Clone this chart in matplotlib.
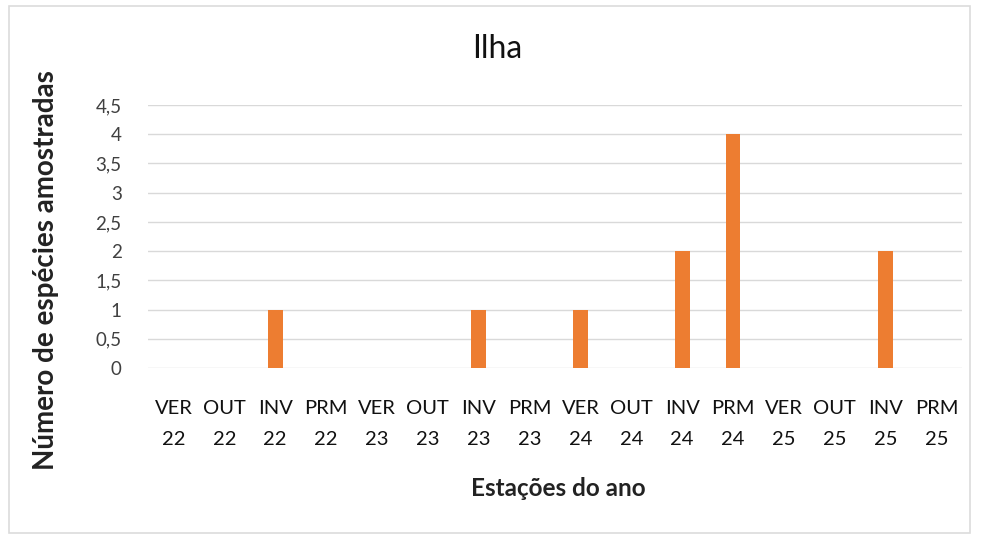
import matplotlib
matplotlib.use("Agg")
import matplotlib.pyplot as plt
from matplotlib.patches import Rectangle

plt.rcParams['font.family'] = ['Lato', 'DejaVu Sans']

seasons = ["VER", "OUT", "INV", "PRM"] * 4
years = ["22"] * 4 + ["23"] * 4 + ["24"] * 4 + ["25"] * 4
categories = [f"{s}\n{y}" for s, y in zip(seasons, years)]
values = [0, 0, 1, 0, 0, 0, 1, 0, 1, 0, 2, 4, 0, 0, 2, 0]
yticks = [0, 0.5, 1, 1.5, 2, 2.5, 3, 3.5, 4, 4.5]
ytick_labels = ["0", "0,5", "1", "1,5", "2", "2,5", "3", "3,5", "4", "4,5"]

W, H = 982, 534
fig = plt.figure(figsize=(W / 100, H / 100), dpi=100)
fig.patch.set_facecolor("white")
fig.patches.append(Rectangle((9 / W, 0.002), (970 - 9) / W, 1 - 6 / H - 0.002,
                             transform=fig.transFigure, fill=False,
                             edgecolor="#dcdcdc", linewidth=1.2))
ax = fig.add_axes([148 / W, 1 - 368 / H, (962 - 148) / W, (368 - 105) / H])
x = list(range(len(categories)))
ax.bar(x, values, width=0.29, color="#ED7D31", zorder=3)
ax.set_xlim(-0.5, len(categories) - 0.5)
ax.set_ylim(0, 4.5)
ax.set_yticks(yticks)
ax.set_yticklabels(ytick_labels, fontsize=13.5, color="#404040")
ax.set_xticks(x)
ax.set_xticklabels(categories, fontsize=14.5, color="#111111", linespacing=2.0)
ax.tick_params(axis="x", length=0, pad=23)
ax.tick_params(axis="y", length=0, pad=19)
ax.grid(axis="y", color="#d9d9d9", linewidth=1, zorder=0)
for s in ax.spines.values():
    s.set_visible(False)

fig.text(497 / W, 1 - 49 / H, "Ilha", fontsize=23, color="#111111",
         ha="center", va="center")
fig.text(558 / W, 1 - 489 / H, "Estações do ano", fontsize=17.5,
         fontweight="bold", color="#222222", ha="center", va="center")
fig.text(46 / W, 1 - 270 / H, "Número de espécies amostradas", fontsize=20,
         fontweight="bold", color="#222222", ha="center", va="center",
         rotation=90)

fig.savefig("out.png", dpi=100)
